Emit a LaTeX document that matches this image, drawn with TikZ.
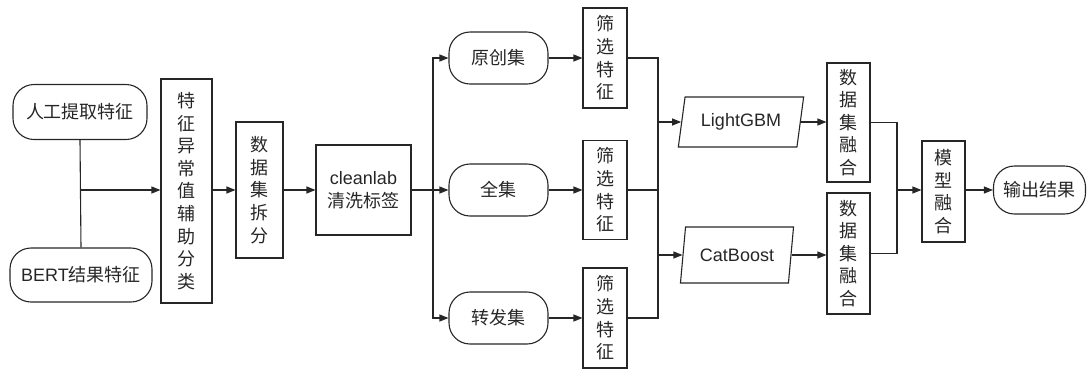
\documentclass[tikz,border=0pt]{standalone}
\usepackage{fontspec}
\setmainfont{Liberation Sans}
\newfontfamily\cjk{Noto Sans CJK SC}
\usetikzlibrary{arrows.meta,shapes.geometric}
\begin{document}
\begin{tikzpicture}[x=1pt,y=-1pt,
  every node/.style={font=\fontsize{18pt}{22.6pt}\selectfont, text=black!85, inner sep=0pt, align=center},
  zh/.style={font=\cjk\fontsize{18pt}{22.6pt}\selectfont},
  box/.style={draw=black!85, line width=1.1pt, rectangle},
  term/.style={draw=black!85, line width=1.1pt, rectangle, rounded corners=21pt},
  para/.style={draw=black!85, line width=1.1pt, trapezium, trapezium left angle=74, trapezium right angle=106, trapezium stretches=true},
  con/.style={draw=black!85, line width=1.1pt},
  arr/.style={con, -{Triangle[length=9pt,width=7pt]}}
]
\useasboundingbox (0,0) rectangle (1088,368);

\node[term, zh, minimum width=134pt, minimum height=55pt] (n1) at (80,112) {人工提取特征};
\node[term, minimum width=142pt, minimum height=54pt] (n2) at (81,275) {BERT{\cjk 结果特征}};
\node[box, zh, minimum width=51pt, minimum height=224pt] (f1) at (186.5,191) {特\\征\\异\\常\\值\\辅\\助\\分\\类};
\node[box, zh, minimum width=47pt, minimum height=136pt] (f2) at (259.5,190) {数\\据\\集\\拆\\分};
\node[box, minimum width=95pt, minimum height=90pt] (cl) at (363.5,190) {cleanlab\\{\cjk 清洗标签}};

\node[term, zh, minimum width=99pt, minimum height=52pt] (s1) at (498.5,58) {原创集};
\node[term, zh, minimum width=99pt, minimum height=52pt] (s2) at (498.5,190) {全集};
\node[term, zh, minimum width=99pt, minimum height=52pt] (s3) at (498.5,318) {转发集};

\node[box, zh, minimum width=44pt, minimum height=100pt] (p1) at (605,58) {筛\\选\\特\\征};
\node[box, zh, minimum width=44pt, minimum height=99pt] (p2) at (605,190) {筛\\选\\特\\征};
\node[box, zh, minimum width=44pt, minimum height=100pt] (p3) at (605,318) {筛\\选\\特\\征};

\node[para, minimum width=126pt, minimum height=50pt] (lg) at (741,122) {LightGBM};
\node[para, minimum width=114pt, minimum height=56pt] (cb) at (737,255) {CatBoost};

\node[box, zh, minimum width=43pt, minimum height=119pt] (d1) at (848.5,122.5) {数\\据\\集\\融\\合};
\node[box, zh, minimum width=43pt, minimum height=121pt] (d2) at (848.5,253.5) {数\\据\\集\\融\\合};
\node[box, zh, minimum width=43pt, minimum height=101pt] (m) at (943.5,191.5) {模\\型\\融\\合};
\node[term, zh, minimum width=92pt, minimum height=48pt] (o) at (1039.5,190) {输出结果};

\coordinate (j1) at (80,190);
\coordinate (b1) at (433,190);
\coordinate (c1) at (658,190);
\coordinate (e1) at (897,190);

\draw[con] (n1.south) -- (n2.north);
\draw[arr] (j1) -- (j1 -| f1.west);
\draw[arr] (f1.east |- f2.west) -- (f2.west);
\draw[arr] (f2.east) -- (cl.west);
\draw[arr] (cl.east) -- (s2.west);
\draw[arr] (b1) |- (s1.west);
\draw[arr] (b1) |- (s3.west);
\draw[arr] (s1.east) -- (p1.west);
\draw[arr] (s2.east) -- (p2.west);
\draw[arr] (s3.east) -- (p3.west);
\draw[con] (p1.east) -| (c1) |- (p3.east);
\draw[con] (p2.east) -- (c1);
\draw[arr] (c1 |- lg.west) -- (lg.west);
\draw[arr] (c1 |- cb.west) -- (cb.west);
\draw[arr] (lg.east) -- (lg.east -| d1.west);
\draw[arr] (cb.east) -- (cb.east -| d2.west);
\draw[con] (d1.east) -| (e1) |- (d2.east);
\draw[arr] (e1) -- (e1 -| m.west);
\draw[arr] (m.east |- o.west) -- (o.west);
\end{tikzpicture}
\end{document}
